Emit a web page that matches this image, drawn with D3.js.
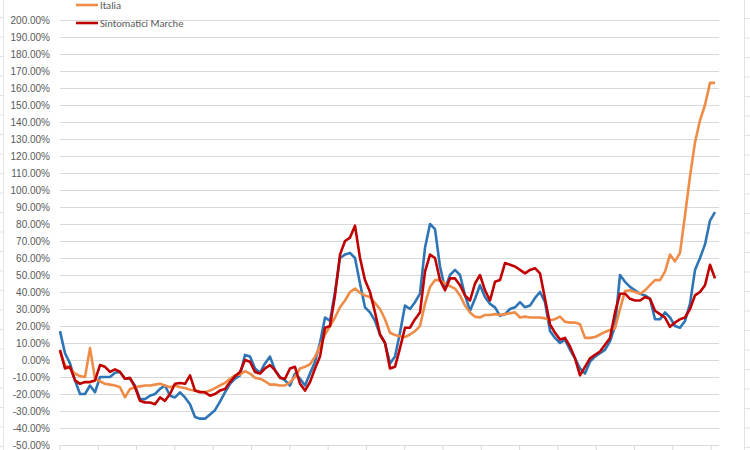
<!DOCTYPE html>
<html>
<head>
<meta charset="utf-8">
<script src="https://cdn.jsdelivr.net/npm/d3@7"></script>
<style>
  body { margin: 0; background: #fff; }
  svg { display: block; font-family: Carlito, "Liberation Sans", Arial, sans-serif; }
</style>
</head>
<body>
<svg width="750" height="450"></svg>
<script>
// tick labels of the y axis (percent)
var yTicks = [-50, -40, -30, -20, -10, 0, 10, 20, 30, 40, 50, 60, 70, 80, 90, 100,
              110, 120, 130, 140, 150, 160, 170, 180, 190, 200];

// series (percent change), one value per period
var marche = [17, 4, -2, -12, -20, -20, -15, -19, -10, -10, -10, -7.5, -7, -11, -11, -15, -23, -23, -21, -20,
  -17, -15, -21, -22, -19, -22, -26, -33.5, -34.5, -34.5, -32, -29.5, -24.5, -19, -14, -11, -9, 3, 2, -5,
  -7.5, -2, 2, -6, -10, -12, -15, -8, -11, -15, -8, -1, 10, 25, 23, 40, 60, 62, 63, 60,
  45, 31, 28, 23, 15, 10, -2, 2, 16, 32, 30, 34, 39, 66, 80, 77, 55, 42, 50, 53,
  50, 38, 29, 36, 44, 37, 33, 31, 26, 27, 30, 31, 34, 31, 32, 36.5, 40, 34, 17, 13,
  10, 12, 6, 1, -5, -8, -1, 2, 4, 6, 11, 20, 50, 46, 43, 41, 39, 38, 36, 24,
  24, 28, 25, 20, 19, 23, 33, 53, 60, 68, 82, 87];

var italia = [5, -3, -5, -8, -9.5, -10, 7, -11, -12.5, -14, -14.5, -15, -16, -22, -17, -16, -15.5, -15, -15, -14.5,
  -14, -15, -16, -15, -16, -16.5, -17.5, -18, -18.5, -19, -18, -16.5, -15, -13.5, -11, -9, -8.5, -6.5, -8, -10.5,
  -11, -12.5, -14.5, -14.5, -15, -15, -13, -10, -5, -4, -2.5, 2, 8, 15, 20, 25, 31, 35, 40, 42,
  39.5, 38, 37, 33.5, 30, 24, 16, 14.7, 14, 13.5, 15, 17, 20, 33, 43, 47, 47, 45, 43.5, 42,
  38, 32, 28, 25.5, 25, 26.5, 26.5, 27, 26.5, 27, 27.5, 28, 25, 25.5, 25, 25, 25, 24.5, 23.5, 24,
  25.5, 22.5, 22, 22, 21, 13, 13, 13.5, 15, 16.5, 17.6, 18.6, 30, 40.5, 41, 40, 39, 41, 44, 47,
  47, 52, 62, 58, 63, 85, 108, 128, 141, 150, 163, 163];

var sintomatici = [6, -5, -4, -12, -14, -13, -13, -12, -3, -4, -7, -5.5, -7, -11, -10.5, -16, -24, -25, -25, -26,
  -22, -24, -20, -14, -13.5, -14, -9, -18, -19, -19, -21, -20, -18, -17, -13, -9.5, -7, 0, -1, -7,
  -8, -5, -3, -6, -10.5, -11, -5, -4, -14, -18, -13, -5, 2, 19, 20, 38, 62, 70, 72, 79,
  60, 47, 40, 28, 15, 10, -5, -4, 7, 19, 19, 24, 28, 52, 62, 60, 47, 41, 48, 48,
  44, 38, 35, 45, 50, 41, 35, 46, 47, 57, 56, 55, 53, 51, 53, 54, 51, 36, 21, 16,
  12, 13, 8, 1, -9, -4, 1, 3, 5, 9, 13, 28, 39, 39, 36, 35, 35, 37, 36, 29,
  27, 25, 19.5, 22, 24, 25, 30, 38, 40, 44, 56, 48];

var seriesNames = ["Marche", "Italia", "Sintomatici Marche"];
var seriesColors = ["#2e75b6", "#ee8c48", "#c00000"];

var svg = d3.select("svg");

// spreadsheet cells peeking in at the edges
var cells = svg.append("g").attr("stroke", "#e3e3e3").attr("stroke-width", 1);
cells.append("line").attr("x1", 3.5).attr("x2", 3.5).attr("y1", 0).attr("y2", 450);
cells.append("line").attr("x1", 744.5).attr("x2", 744.5).attr("y1", 0).attr("y2", 450);
for (var r = 0; r < 24; r++) {
    cells.append("line").attr("x1", 0).attr("x2", 3).attr("y1", 17.5 + r * 19.5).attr("y2", 17.5 + r * 19.5);
    cells.append("line").attr("x1", 745).attr("x2", 750).attr("y1", 18.5 + r * 19.5).attr("y2", 18.5 + r * 19.5);
}

var x = d3.scaleLinear().domain([0, marche.length - 1]).range([60, 715]);
var y = d3.scaleLinear().domain([-50, 200]).range([445, 20]);

// gridlines + labels
var yAxis = d3.axisLeft(y)
    .tickValues(yTicks)
    .tickSize(-659)
    .tickPadding(10)
    .tickFormat(function(d) { return d.toFixed(2) + "%"; });

var gy = svg.append("g").attr("transform", "translate(60,0)").call(yAxis);
gy.select(".domain").remove();
gy.selectAll(".tick line").attr("stroke", "#d9d9d9").attr("stroke-width", 1);
gy.selectAll(".tick text")
    .attr("fill", "#595959")
    .style("font-size", "10px")
    .attr("x", -10);

// category axis ticks on the bottom line
var bottom = svg.append("g").attr("stroke", "#d9d9d9");
for (var t = 60; t <= 720; t += 38.3) {
    bottom.append("line").attr("x1", t).attr("x2", t).attr("y1", 445).attr("y2", 450);
}

var line = d3.line()
    .x(function(d, i) { return x(i); })
    .y(function(d) { return y(d); });

var allSeries = [marche, italia, sintomatici];
allSeries.forEach(function(s, k) {
    svg.append("path")
        .datum(s)
        .attr("fill", "none")
        .attr("stroke", seriesColors[k])
        .attr("stroke-width", 2.6)
        .attr("stroke-linejoin", "round")
        .attr("d", line);
});

// legend (first entry is cut off above the picture)
var legend = svg.append("g");
[1, 2].forEach(function(k, j) {
    var ly = 5 + j * 18;
    legend.append("line")
        .attr("x1", 76).attr("x2", 98)
        .attr("y1", ly).attr("y2", ly)
        .attr("stroke", seriesColors[k]).attr("stroke-width", 2.6);
    legend.append("text")
        .attr("x", 100).attr("y", ly + 3.5)
        .attr("fill", "#595959")
        .style("font-size", "10.6px")
        .text(seriesNames[k]);
});
</script>
</body>
</html>
